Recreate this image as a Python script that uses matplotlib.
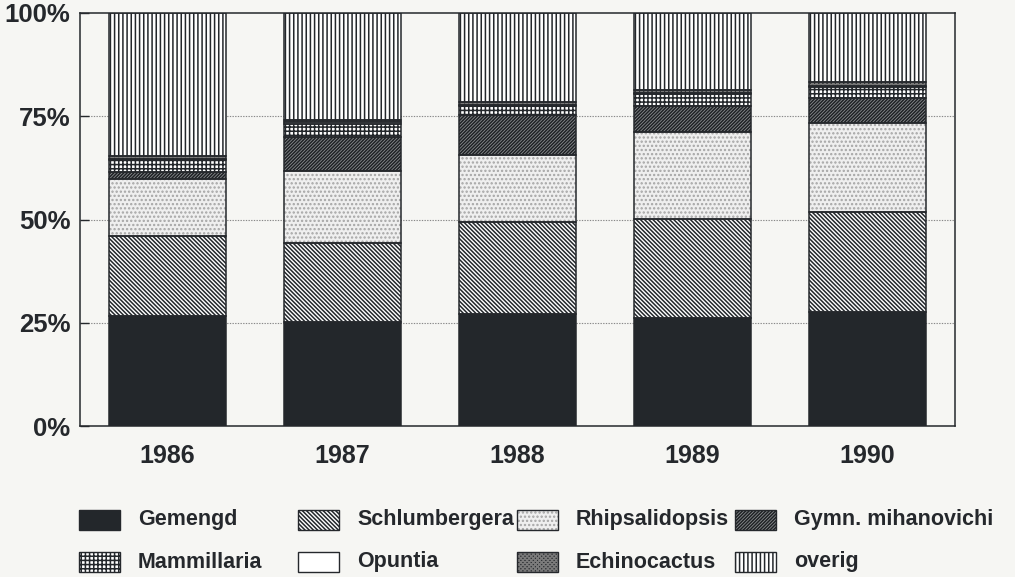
import matplotlib
matplotlib.use("Agg")
import matplotlib.pyplot as plt
from matplotlib.patches import Rectangle
import numpy as np

years = ["1986", "1987", "1988", "1989", "1990"]
series = ["Gemengd", "Schlumbergera", "Rhipsalidopsis", "Gymn. mihanovichi",
          "Mammillaria", "Opuntia", "Echinocactus", "overig"]

gemengd        = [26.7, 25.1, 27.1, 26.1, 27.5]
schlumbergera  = [19.4, 19.1, 22.4, 24.0, 24.2]
rhipsalidopsis = [13.7, 17.5, 16.1, 21.2, 21.6]
gymn           = [1.7, 8.2, 9.6, 6.1, 6.0]
mammillaria    = [2.9, 3.2, 2.4, 3.0, 2.9]
opuntia        = [0.3, 0.5, 0.2, 0.3, 0.2]
echinocactus   = [0.7, 0.5, 0.7, 0.7, 0.8]
overig         = [34.6, 25.9, 21.5, 18.6, 16.8]

values = [gemengd, schlumbergera, rhipsalidopsis, gymn,
          mammillaria, opuntia, echinocactus, overig]

ytick_vals = [0, 25, 50, 75, 100]
ytick_labels = ["0%", "25%", "50%", "75%", "100%"]

# styles: (facecolor, hatch, hatchcolor)
styles = [
    ("#23272b", None, "#23272b"),
    ("white", "\\" * 8, "#23272b"),
    ("#efefef", "....", "#a5a5a5"),
    ("#8a8d90", "/" * 10, "#1e2124"),
    ("white", "++++", "#23272b"),
    ("white", None, "#23272b"),
    ("#2e3134", "x" * 8, "#7a7a7a"),
    ("white", "||||", "#23272b"),
]

BG = "#f6f6f3"
INK = "#25282c"
FONT = ["Liberation Sans", "DejaVu Sans"]
plt.rcParams["font.family"] = FONT
plt.rcParams["hatch.linewidth"] = 1.1

W, H = 1015, 577
fig = plt.figure(figsize=(W / 100, H / 100), dpi=100, facecolor=BG)
ax = fig.add_axes([80 / W, 1 - 426 / H, (955 - 80) / W, (426 - 13) / H])
ax.set_facecolor(BG)

x = np.arange(len(years))
bw = 0.67
bottom = np.zeros(len(years))
for vals, (fc, hatch, hc) in zip(values, styles):
    v = np.array(vals)
    ax.bar(x, v, bw, bottom=bottom, color=fc, hatch=hatch, edgecolor=hc,
           linewidth=0, zorder=2)
    ax.bar(x, v, bw, bottom=bottom, fill=False, edgecolor=INK,
           linewidth=1.1, zorder=3)
    bottom += v

ax.set_xlim(-0.5, len(years) - 0.5)
ax.set_ylim(0, 100)
ax.set_yticks(ytick_vals)
ax.set_yticklabels(ytick_labels)
ax.set_xticks(x)
ax.set_xticklabels(years)
ax.tick_params(axis="y", direction="in", length=6.5, width=1.0, color=INK,
               pad=7, labelsize=18.5, labelcolor=INK)
ax.tick_params(axis="x", length=0, pad=13, labelsize=18, labelcolor=INK)
for lab in ax.get_yticklabels() + ax.get_xticklabels():
    lab.set_fontweight("bold")
for s in ax.spines.values():
    s.set_color(INK)
    s.set_linewidth(1.1)
for yv in ytick_vals[1:-1]:
    ax.axhline(yv, color="#888888", linewidth=0.8, linestyle=(0, (1.2, 1.2)),
               zorder=1)

# legend (manual, two rows of four)
col_x = [79, 298, 517, 735]
row_y = [520, 562]
pw, ph = 41, 20
for i, (name, (fc, hatch, hc)) in enumerate(zip(series, styles)):
    r, c = divmod(i, 4)
    px = col_x[c]
    py = row_y[r]
    fig.add_artist(Rectangle((px / W, 1 - (py + ph / 2) / H), pw / W, ph / H,
                             transform=fig.transFigure, facecolor=fc,
                             hatch=hatch, edgecolor=hc, linewidth=0))
    fig.add_artist(Rectangle((px / W, 1 - (py + ph / 2) / H), pw / W, ph / H,
                             transform=fig.transFigure, fill=False,
                             edgecolor=INK, linewidth=1.0))
    fig.text((px + 59) / W, 1 - py / H, name, fontsize=15.5, fontweight="bold",
             color=INK, va="center", ha="left")

fig.savefig("out.png", dpi=100, facecolor=BG)
